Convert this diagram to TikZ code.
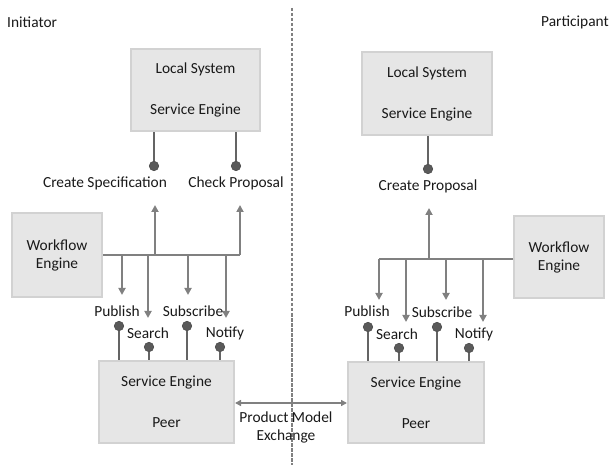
\documentclass[tikz,border=0pt]{standalone}
\usepackage{fontspec}
\setmainfont{Carlito}
\usepackage{tikz}
\usetikzlibrary{positioning, arrows.meta, calc}
\definecolor{boxfill}{RGB}{230,230,230}
\definecolor{boxline}{RGB}{210,210,210}
\definecolor{flowcolor}{RGB}{128,128,128}
\definecolor{stemcolor}{RGB}{100,100,100}
\definecolor{ballcolor}{RGB}{90,90,90}

\begin{document}
\begin{tikzpicture}[
    x=1pt, y=-1pt,
    every node/.style={font=\fontsize{15.4}{18}\selectfont, text=black!90},
    box/.style={draw=boxline, fill=boxfill, rectangle, line width=2pt, align=center, inner sep=0pt},
    flow/.style={-{Triangle[length=7pt, width=7pt]}, line width=2pt, flowcolor},
    bus/.style={line width=2pt, flowcolor},
    stem/.style={line width=1.3pt, stemcolor},
    ball/.style={circle, fill=ballcolor, draw=black!70, line width=0.6pt, minimum size=9.5pt, inner sep=0pt},
    lbl/.style={inner sep=0pt}
]
    \useasboundingbox (0,0) rectangle (611,465);

    % Separation
    \draw[flowcolor, line width=1.3pt, dash pattern=on 3.5pt off 1.5pt] (292,8) -- (292,465);
    \node[lbl, anchor=west] (initiator) at (7,22) {Initiator};
    \node[lbl, anchor=east] (participant) at (609,22) {Participant};

    % Initiator : systeme local
    \node[box, minimum width=129, minimum height=82] (locL) at (195.5,90) {Local System\\[23pt]Service Engine};
    \node[ball] (specball) at (154,166) {};
    \node[ball] (checkball) at (236,166) {};
    \draw[stem] (specball) -- (specball |- locL.south);
    \draw[stem] (checkball) -- (checkball |- locL.south);
    \node[lbl] (spec) at (105,183) {Create Specification};
    \node[lbl] (check) at (236,183) {Check Proposal};

    % Initiator : workflow engine
    \node[box, minimum width=90, minimum height=84] (wfL) at (57,255) {Workflow\\Engine};
    \coordinate (busL) at (240,255);
    \draw[bus] (wfL.east) -- (busL);
    \draw[flow] (155,255) -- (155,205);
    \draw[flow] (busL) -- (240,205);
    \draw[flow] (122,255) -- (122,295);
    \draw[flow] (148,255) -- (148,318);
    \draw[flow] (188,255) -- (188,295);
    \draw[flow] (226,255) -- (226,318);

    % Initiator : peer
    \node[box, minimum width=135, minimum height=82] (peerL) at (166.5,402) {Service Engine\\[23pt]Peer};
    \node[ball] (pubballL) at (119,326) {};
    \node[ball] (searchballL) at (149,347) {};
    \node[ball] (subballL) at (187,326) {};
    \node[ball] (notballL) at (220,347) {};
    \draw[stem] (pubballL) -- (pubballL |- peerL.north);
    \draw[stem] (searchballL) -- (searchballL |- peerL.north);
    \draw[stem] (subballL) -- (subballL |- peerL.north);
    \draw[stem] (notballL) -- (notballL |- peerL.north);
    \node[lbl] (pubL) at (117,311) {Publish};
    \node[lbl] (searchL) at (148,333) {Search};
    \node[lbl] (subL) at (193,311) {Subscribe};
    \node[lbl] (notL) at (225,333) {Notify};

    % Participant : systeme local
    \node[box, minimum width=130, minimum height=83] (locR) at (427,93.5) {Local System\\[23pt]Service Engine};
    \node[ball] (propball) at (428,169) {};
    \draw[stem] (propball) -- (propball |- locR.south);
    \node[lbl] (prop) at (428,186) {Create Proposal};

    % Participant : workflow engine
    \node[box, minimum width=90, minimum height=82] (wfR) at (559,257) {Workflow\\Engine};
    \coordinate (busR) at (379,259);
    \draw[bus] (wfR.west |- busR) -- (busR);
    \draw[flow] (429,259) -- (429,208);
    \draw[flow] (busR) -- (379,300);
    \draw[flow] (406,259) -- (406,322);
    \draw[flow] (446,259) -- (446,300);
    \draw[flow] (483,259) -- (483,322);

    % Participant : peer
    \node[box, minimum width=136, minimum height=81] (peerR) at (416,402.5) {Service Engine\\[23pt]Peer};
    \node[ball] (pubballR) at (368,327) {};
    \node[ball] (searchballR) at (399,348) {};
    \node[ball] (subballR) at (437,327) {};
    \node[ball] (notballR) at (469,348) {};
    \draw[stem] (pubballR) -- (pubballR |- peerR.north);
    \draw[stem] (searchballR) -- (searchballR |- peerR.north);
    \draw[stem] (subballR) -- (subballR |- peerR.north);
    \draw[stem] (notballR) -- (notballR |- peerR.north);
    \node[lbl] (pubR) at (367,311) {Publish};
    \node[lbl] (searchR) at (397,334) {Search};
    \node[lbl] (subR) at (442,312) {Subscribe};
    \node[lbl] (notR) at (474,334) {Notify};

    % Echange du modele produit
    \draw[{Triangle[length=6pt, width=6pt]}-{Triangle[length=6pt, width=6pt]}, line width=1.5pt, flowcolor] (peerL.east |- 0,403) -- (peerR.west |- 0,403);
    \node[align=center, inner sep=0pt] (pme) at (286,427) {Product Model\\Exchange};
\end{tikzpicture}
\end{document}
